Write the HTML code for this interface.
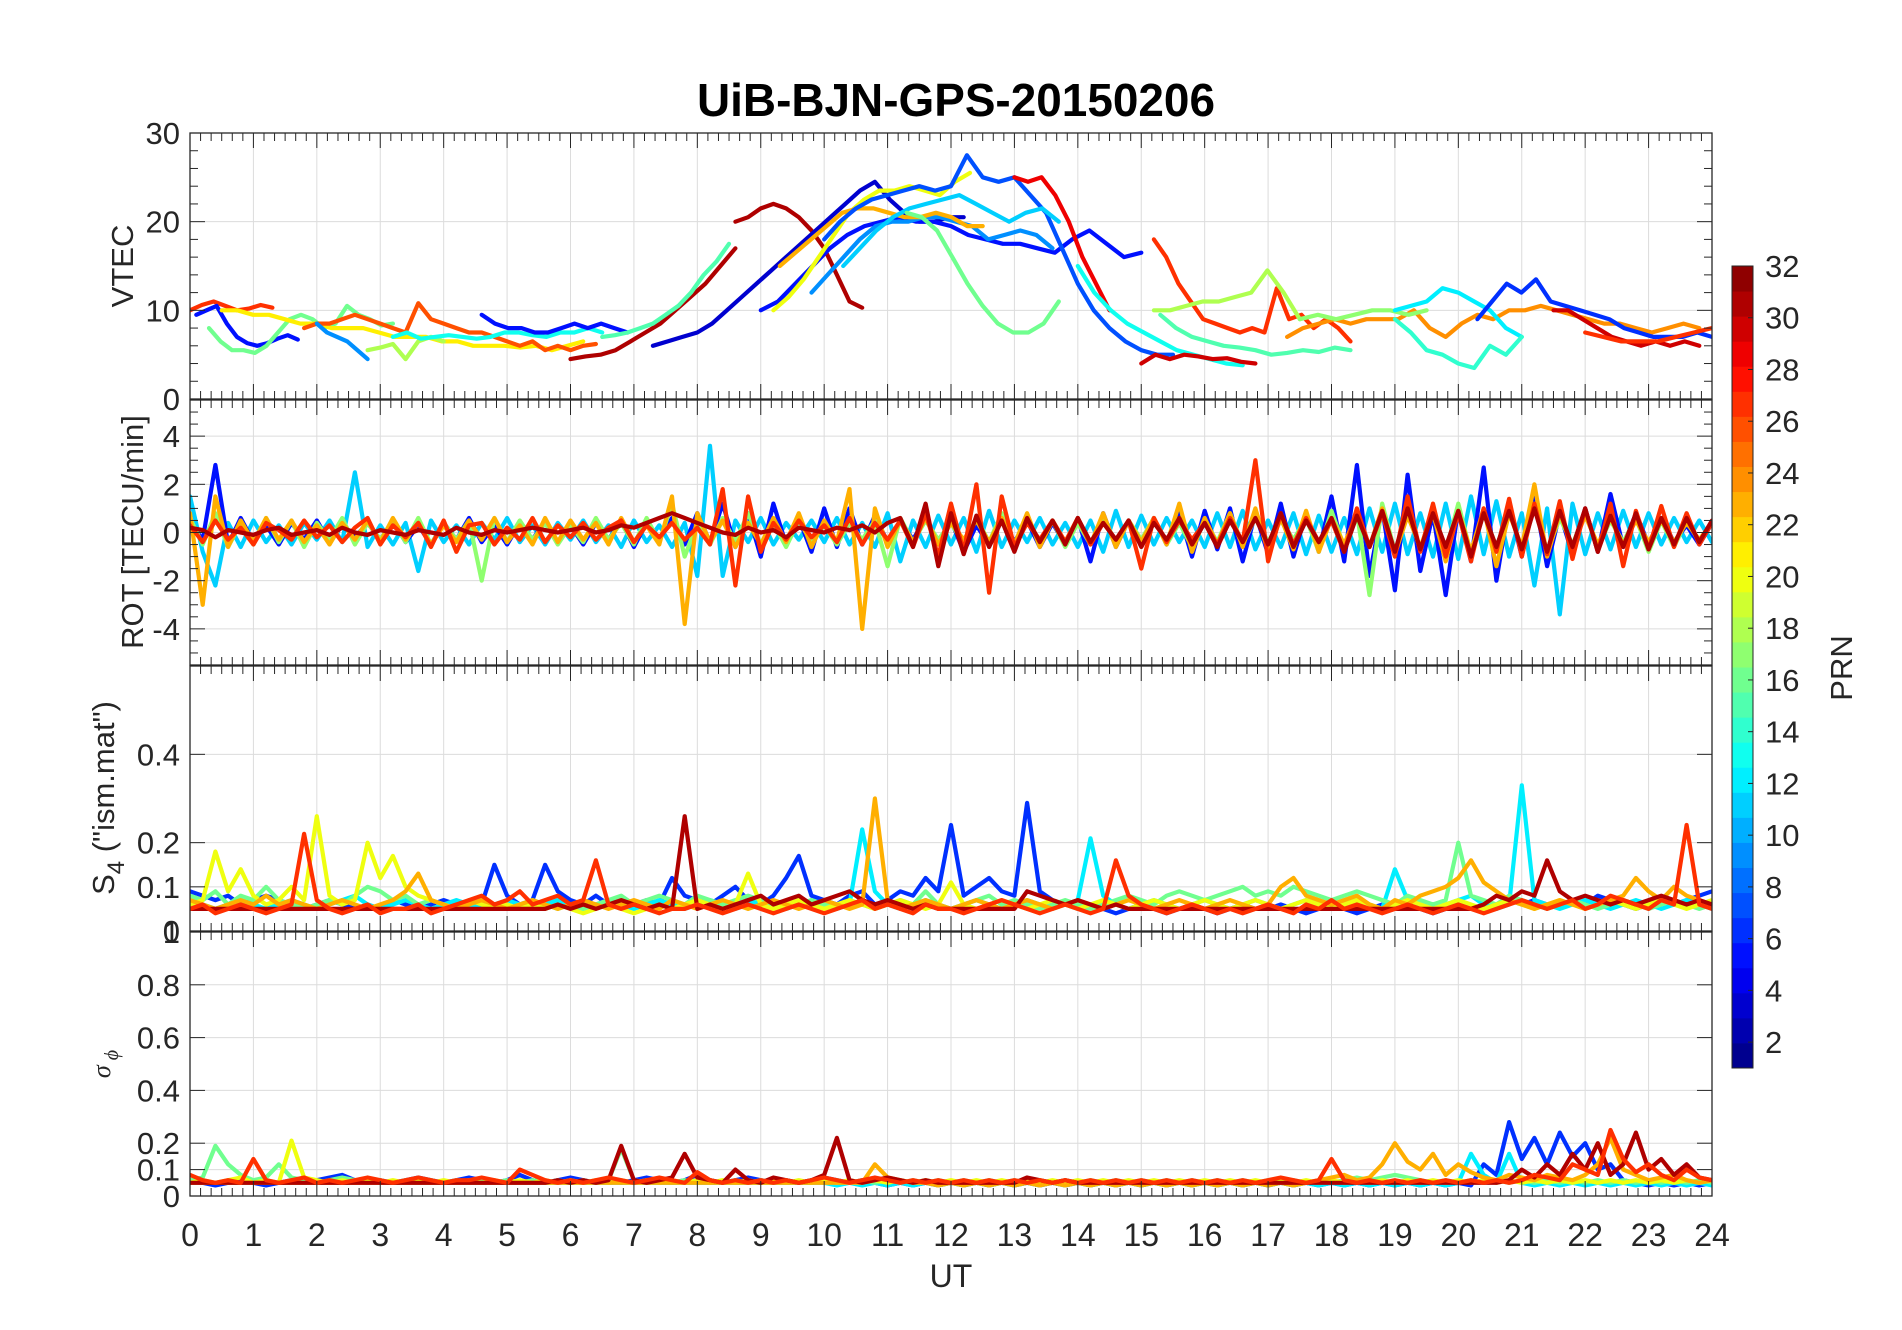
<!DOCTYPE html>
<html><head><meta charset="utf-8"><style>
html,body{margin:0;padding:0;background:#fff;}
svg{display:block;}
text{font-family:"Liberation Sans Narrow","Liberation Sans",sans-serif;fill:#262626;}
</style></head><body>
<svg id="fig" width="1902" height="1330" viewBox="0 0 1902 1330" xmlns="http://www.w3.org/2000/svg">
<text x="956" y="116" text-anchor="middle" font-size="46" font-weight="bold" textLength="518" lengthAdjust="spacingAndGlyphs" style="fill:#000;font-family:'Liberation Sans',sans-serif">UiB-BJN-GPS-20150206</text>
</svg>
<script>
// ---------- data ----------
const xTickLabels=["0","1","2","3","4","5","6","7","8","9","10","11","12","13","14","15","16","17","18","19","20","21","22","23","24"];
const vtecTicks=[0,10,20,30];
const rotTicks=[-4,-2,0,2,4];
const s4Ticks=[0,0.1,0.2,0.4];
const sigTicks=[0,0.1,0.2,0.4,0.6,0.8,1];
const cbTicks=[2,4,6,8,10,12,14,16,18,20,22,24,26,28,30,32];

// VTEC series: [prn, t0, t1] + values
const vtecPrn=[27,5,16,21,26,9,18,13,5,31,31,15,3,5,9,20,23,7,11,16,29,13,30,27,18,15,24,17,12,14,6,30,27];
const vtecT0=[0,0.1,0.3,0.5,1.8,2,2.8,3.2,4.6,6,8.6,6.5,7.3,9,9.8,9.2,9.3,10,10.3,11.3,13,14,15,15.2,15.2,15.3,17.3,17.5,19,19,20.3,21.5,22];
const vtecT1=[1.3,1.7,3.2,6.2,6.4,2.8,4,6.5,6.9,8.6,10.6,8.5,12.2,15,13.6,12.3,12.5,15.5,13.7,13.7,14.5,16.6,16.8,18.3,17.5,18.3,23.8,19.5,21,21,24,23.8,24];
const vtecVals=[
[10,10.6,11,10.5,10,10.2,10.6,10.3],
[9.5,10,10.5,8.5,7,6.3,6,6.3,6.8,7.2,6.7],
[8,6.5,5.5,5.5,5.2,6,7.5,9,9.5,9,8,8.5,10.5,9.5,9,8.3,8.5],
[10,10,9.5,9.5,9,8.5,8.5,8,8,8,7.5,7,7,7,6.5,6.5,6,6,6,5.8,6,5.5,6,6.5],
[8,8.5,8.5,9,9.5,9,8.5,8,7.5,10.8,9,8.5,8,7.5,7.5,7,6.5,6,6.5,5.5,6,5.5,6,6.2],
[8.5,7.5,7,6.5,5.5,4.5],
[5.5,5.8,6.2,4.5,6.5,7,6.5],
[7,7.5,6.8,7,7.2,7,6.8,7,7.5,7.5,7.2,7,7.5,7.5,8,7.5],
[9.5,8.5,8,8,7.5,7.5,8,8.5,8,8.5,8,7.5],
[4.5,4.8,5,5.5,6.5,7.5,8.5,10,11.5,13,15,17],
[20,20.5,21.5,22,21.5,20.5,19,17,14,11,10.3],
[7,7.2,7.5,8,8.5,9.5,10.5,12,14,15.5,17.5],
[6,6.5,7,7.5,8.5,10,11.5,13,14.5,16,17.5,19,20.5,22,23.5,24.5,22.5,21,20,20,20.5,20.5],
[10,11,13,15,17,18.5,19.5,20,20.5,20,20,19.5,18.5,18,17.5,17.5,17,16.5,18,19,17.5,16,16.5],
[12,14,16,18,19.5,20,20,20.5,20.5,20,19.5,18,18.5,19,18.5,17],
[10,11.5,13.5,16,18.5,21,22.5,23.5,23.5,24,23.5,23,24.5,25.5],
[15,16.5,18,19.5,21,21.5,21.5,21,20.5,20.5,21,20.5,19.5,19.5],
[18,20,21.5,22.5,23,23.5,24,23.5,24,27.5,25,24.5,25,23,21,17,13,10,8,6.5,5.5,5,5],
[15,17,19,20.5,21.5,22,22.5,23,22,21,20,21,21.5,20],
[21,20.5,19,16,13,10.5,8.5,7.5,7.5,8.5,11],
[25,24.5,25,23,20,16,13,10],
[15,12,10,8.5,7.5,6.5,5.5,5,4.5,4,3.8],
[4,5,4.5,5,4.8,4.5,4.6,4.2,4],
[18,16,13,11,9,8.5,8,7.5,8,7.5,12.5,9,9.5,8,9,8,6.5],
[10,10,10.5,11,11,11.5,12,14.5,12,9],
[9.5,8,7,6.5,6,5.8,5.5,5,5.2,5.5,5.3,5.8,5.5],
[7,8,8.5,9,8.5,9,9,9,10,8,7,8.5,9.5,9,10,10,10.5,10,9.5,9,8.5,8.5,8,7.5,8,8.5,8],
[9,9.5,9,9.5,10,10,9.5,10],
[10,10.5,11,12.5,12,11,10,8,7],
[9,7.5,5.5,5,4,3.5,6,5,7],
[9,11,13,12,13.5,11,10.5,10,9.5,9,8,7.5,7,7,7,7.5,7],
[10,10,9,8,7,6.5,6,6.5,6,6.5,6],
[7.5,7,6.5,6.5,6.5,7,7.5,8]
];

// ROT series (full day, evenly spaced)
const rotPrn=[11,5,17,23,27,31];
const rotVals=[
[1.5,-0.8,-2.2,0.4,-0.6,0.5,-0.4,0.3,-0.5,0.4,-0.3,0.5,-0.4,2.5,-0.6,0.3,-0.5,0.4,-1.6,0.5,-0.4,0.3,-0.5,0.4,-0.3,0.6,-0.4,0.3,-0.5,0.4,-0.3,0.5,-0.4,0.3,-0.6,0.5,-0.4,0.3,-0.6,0.4,-1.8,3.6,-1.8,0.5,-0.4,0.6,-0.5,0.4,-0.3,0.5,-0.4,0.6,-0.5,0.4,-0.6,0.8,-1.2,0.5,-0.6,0.7,-0.5,0.6,-0.8,0.9,-0.6,0.5,-0.4,0.6,-0.5,0.4,-0.6,0.5,-0.8,0.9,-0.6,0.7,-0.5,0.6,-0.4,0.5,-0.6,0.8,-0.6,0.9,-0.7,0.5,-0.6,0.8,-0.9,0.7,-0.8,0.6,-0.9,1.0,-0.8,1.2,-0.9,0.8,-1.0,1.2,-1.1,1.5,-0.9,1.3,-1.0,0.8,-2.2,1.0,-3.4,1.2,-0.9,0.8,-0.7,0.9,-0.6,0.8,-0.5,0.6,-0.4,0.5,-0.4],
[0.4,-0.3,2.8,-0.5,0.6,-0.4,0.3,-0.5,0.4,-0.3,0.5,-0.4,0.3,-0.2,0.4,-0.3,0.5,-0.4,0.3,-0.5,0.4,-0.3,0.6,-0.4,0.3,-0.5,0.4,-0.3,0.5,-0.4,0.3,-0.5,0.4,-0.3,0.5,-0.6,0.4,-0.3,0.6,-0.5,0.8,-0.4,1.2,-0.6,0.8,-1.0,1.2,-0.5,0.6,-0.8,1.0,-0.6,1.0,-0.5,0.7,-0.4,0.5,-0.3,0.6,-0.4,0.5,-0.8,0.3,-0.5,0.6,-0.4,0.5,-0.6,0.4,-0.5,0.6,-1.2,0.8,-0.6,0.5,-0.4,0.6,-0.5,0.8,-1.0,0.9,-0.7,1.0,-1.2,0.8,-0.9,1.2,-1.0,0.8,-0.8,1.5,-1.2,2.8,-1.8,1.0,-2.4,2.4,-1.6,0.8,-2.6,1.0,-1.2,2.7,-2.0,1.2,-1.0,1.5,-1.4,0.8,-0.9,1.0,-0.8,1.6,-0.6,0.8,-0.5,0.6,-0.4,0.3,-0.5,0.4],
[0.6,-0.5,0.8,-0.6,0.4,-0.5,0.6,-0.4,0.5,-0.6,0.4,-0.3,0.6,-0.5,0.4,-0.3,0.5,-0.4,0.6,-0.5,0.4,-0.3,0.5,-2.0,0.6,-0.4,0.5,-0.3,0.4,-0.5,0.3,-0.4,0.6,-0.3,0.4,-0.5,0.6,-0.4,1.2,-1.0,0.4,-0.5,0.6,-0.4,0.8,-0.5,0.4,-0.6,0.5,-0.4,0.3,-0.5,0.4,-0.3,0.5,-1.4,0.6,-0.4,0.5,-0.3,0.4,-0.5,0.6,-0.4,0.8,-0.5,0.6,-0.4,0.5,-0.6,0.4,-0.5,0.6,-0.4,0.5,-0.3,0.6,-0.5,0.4,-0.6,0.5,-0.4,0.8,-0.5,0.6,-0.4,0.5,-0.3,0.6,-0.8,0.9,-0.6,0.8,-2.6,1.2,-0.8,0.9,-0.7,1.0,-0.8,1.2,-0.9,0.8,-0.6,0.9,-0.7,1.2,-0.8,0.6,-0.5,0.8,-0.6,0.5,-0.4,0.6,-0.8,0.5,-0.6,0.5,-0.4,0.4],
[0.8,-3.0,1.5,-0.6,0.5,-0.4,0.6,-0.3,0.5,-0.4,0.3,-0.5,0.4,-0.3,0.5,-0.4,0.6,-0.3,0.4,-0.5,0.3,-0.4,0.5,-0.3,0.6,-0.4,0.3,-0.5,0.6,-0.4,0.5,-0.3,0.4,-0.5,0.6,-0.4,0.3,-0.5,1.5,-3.8,0.8,-0.4,0.5,-0.6,0.4,-0.5,0.6,-0.4,0.8,-0.6,0.5,-0.4,1.8,-4.0,1.0,-0.6,0.5,-0.4,0.6,-0.5,0.4,-0.3,0.5,-0.4,0.6,-0.5,0.8,-0.6,0.5,-0.4,0.6,-0.5,0.8,-0.6,0.5,-0.4,0.6,-0.5,1.2,-0.8,0.6,-0.5,0.8,-0.6,1.0,-0.8,0.6,-0.7,0.9,-0.8,0.6,-0.5,0.8,-0.6,1.0,-0.9,0.7,-0.6,0.8,-1.2,0.9,-0.8,1.0,-1.4,0.8,-0.6,2.0,-1.0,0.8,-0.6,0.7,-0.5,0.6,-0.5,0.5,-0.4,0.5,-0.4,0.4,-0.3,0.4],
[0.3,-0.4,0.5,-0.3,0.2,-0.5,0.4,0.1,-0.3,0.5,-0.2,0.3,-0.4,0.2,0.6,-0.5,0.3,-0.2,0.4,-0.6,0.5,-0.8,0.3,0.4,-0.5,0.2,-0.3,0.6,-0.4,0.3,-0.2,0.4,-0.3,0.2,0.5,-0.4,0.3,-0.2,0.4,-0.3,0.2,-0.5,1.8,-2.2,1.5,-0.8,0.4,-0.3,0.5,-0.2,0.3,-0.4,0.6,-0.5,0.4,-0.3,0.5,-0.6,0.8,-1.0,1.2,-0.8,2.0,-2.5,1.5,-0.6,0.4,-0.3,0.5,-0.4,0.6,-0.5,0.4,-0.3,0.5,-1.5,0.6,-0.4,0.5,-0.3,0.4,-0.5,0.6,-0.4,3.0,-1.2,0.8,-0.5,0.6,-0.4,0.5,-0.8,1.0,-0.6,0.8,-1.0,1.5,-0.8,1.2,-1.0,0.8,-1.2,1.0,-0.8,1.4,-1.0,1.2,-0.9,1.3,-1.1,1.0,-0.8,1.2,-1.4,0.9,-0.7,1.1,-0.6,0.8,-0.5,0.4],
[0.2,0.1,-0.2,0.1,0.0,-0.1,0.1,0.2,-0.1,0.0,0.1,-0.1,0.2,0.0,-0.1,0.1,0.0,-0.1,0.1,0.0,-0.1,0.2,0.0,-0.1,0.1,0.0,0.1,0.2,0.1,0.0,0.1,0.2,0.0,0.1,0.3,0.2,0.4,0.6,0.8,0.6,0.4,0.2,0.0,-0.1,0.2,0.0,0.1,-0.2,0.2,0.1,0.0,0.2,0.1,0.3,0.0,0.4,0.6,-0.6,1.2,-1.4,0.8,-0.9,0.7,-0.6,0.5,-0.8,0.6,-0.4,0.5,-0.5,0.6,-0.4,0.4,-0.3,0.5,-0.6,0.4,-0.3,0.6,-0.5,0.4,-0.6,0.5,-0.4,0.6,-0.5,0.8,-0.6,0.5,-0.4,0.6,-0.8,0.7,-0.6,0.9,-0.8,1.0,-0.7,0.8,-0.6,0.9,-1.0,0.8,-0.6,0.9,-0.7,1.0,-0.8,0.9,-0.6,1.0,-0.8,0.7,-0.6,0.8,-0.7,0.6,-0.5,0.6,-0.4,0.5]
];

// S4 series (full day)
const s4Prn=[6,12,16,20,23,31,27];
const s4Vals=[
[0.09,0.08,0.07,0.08,0.06,0.07,0.08,0.07,0.06,0.05,0.06,0.07,0.06,0.05,0.06,0.05,0.07,0.06,0.05,0.06,0.07,0.06,0.05,0.06,0.15,0.08,0.06,0.07,0.15,0.09,0.07,0.06,0.08,0.06,0.05,0.06,0.07,0.06,0.12,0.08,0.07,0.06,0.08,0.1,0.07,0.06,0.08,0.12,0.17,0.08,0.07,0.06,0.08,0.09,0.06,0.07,0.09,0.08,0.12,0.09,0.24,0.08,0.1,0.12,0.09,0.08,0.29,0.09,0.07,0.06,0.05,0.06,0.05,0.04,0.05,0.06,0.05,0.04,0.05,0.06,0.05,0.04,0.05,0.06,0.05,0.05,0.06,0.05,0.04,0.05,0.06,0.05,0.04,0.05,0.06,0.05,0.06,0.05,0.04,0.05,0.06,0.05,0.06,0.05,0.07,0.06,0.07,0.06,0.06,0.07,0.06,0.08,0.07,0.06,0.05,0.06,0.07,0.06,0.07,0.08,0.09],
[0.07,0.06,0.05,0.06,0.07,0.06,0.05,0.06,0.07,0.06,0.05,0.06,0.07,0.08,0.06,0.05,0.06,0.07,0.06,0.05,0.06,0.07,0.06,0.05,0.06,0.07,0.06,0.05,0.06,0.07,0.06,0.05,0.06,0.07,0.06,0.05,0.06,0.07,0.06,0.05,0.06,0.07,0.06,0.05,0.06,0.07,0.06,0.05,0.06,0.07,0.06,0.05,0.06,0.23,0.09,0.06,0.05,0.06,0.07,0.06,0.05,0.06,0.07,0.06,0.05,0.06,0.07,0.06,0.05,0.06,0.07,0.21,0.08,0.06,0.05,0.06,0.07,0.06,0.05,0.06,0.07,0.06,0.05,0.06,0.07,0.06,0.05,0.06,0.07,0.06,0.05,0.06,0.07,0.06,0.05,0.14,0.07,0.06,0.05,0.06,0.07,0.08,0.06,0.05,0.06,0.33,0.07,0.06,0.05,0.06,0.07,0.06,0.05,0.06,0.07,0.06,0.05,0.06,0.07,0.06,0.05],
[0.08,0.07,0.09,0.06,0.08,0.07,0.1,0.07,0.06,0.05,0.06,0.07,0.06,0.08,0.1,0.09,0.07,0.08,0.06,0.07,0.06,0.05,0.06,0.07,0.06,0.05,0.06,0.07,0.06,0.05,0.06,0.05,0.06,0.07,0.08,0.06,0.07,0.08,0.07,0.06,0.08,0.07,0.06,0.07,0.08,0.07,0.06,0.05,0.06,0.07,0.06,0.05,0.07,0.06,0.05,0.06,0.07,0.06,0.09,0.06,0.05,0.06,0.07,0.08,0.06,0.07,0.06,0.05,0.06,0.07,0.06,0.05,0.06,0.07,0.08,0.07,0.06,0.08,0.09,0.08,0.07,0.08,0.09,0.1,0.08,0.09,0.08,0.1,0.09,0.08,0.07,0.08,0.09,0.08,0.07,0.06,0.08,0.07,0.06,0.07,0.2,0.08,0.07,0.06,0.08,0.07,0.06,0.05,0.06,0.07,0.06,0.05,0.06,0.07,0.06,0.05,0.06,0.07,0.06,0.05,0.06],
[0.06,0.07,0.18,0.09,0.14,0.08,0.06,0.07,0.1,0.07,0.26,0.08,0.06,0.07,0.2,0.12,0.17,0.1,0.08,0.07,0.06,0.05,0.07,0.06,0.05,0.06,0.05,0.06,0.05,0.06,0.05,0.04,0.05,0.06,0.05,0.04,0.05,0.06,0.05,0.06,0.07,0.06,0.05,0.06,0.13,0.06,0.05,0.06,0.07,0.06,0.05,0.06,0.07,0.06,0.05,0.06,0.07,0.06,0.05,0.06,0.11,0.06,0.05,0.06,0.07,0.06,0.05,0.06,0.07,0.06,0.05,0.06,0.07,0.06,0.05,0.06,0.07,0.06,0.05,0.06,0.07,0.06,0.05,0.06,0.07,0.06,0.05,0.06,0.07,0.06,0.05,0.06,0.07,0.06,0.05,0.06,0.07,0.06,0.05,0.06,0.07,0.06,0.05,0.06,0.07,0.06,0.05,0.06,0.07,0.06,0.05,0.06,0.07,0.06,0.05,0.06,0.07,0.06,0.05,0.06,0.07],
[0.07,0.06,0.05,0.06,0.07,0.06,0.08,0.06,0.07,0.06,0.05,0.06,0.07,0.06,0.05,0.06,0.07,0.09,0.13,0.07,0.06,0.05,0.06,0.07,0.06,0.05,0.06,0.07,0.06,0.05,0.06,0.07,0.06,0.05,0.06,0.07,0.06,0.05,0.07,0.06,0.05,0.06,0.07,0.06,0.05,0.06,0.07,0.06,0.05,0.06,0.07,0.06,0.05,0.06,0.3,0.07,0.05,0.06,0.07,0.06,0.05,0.06,0.07,0.06,0.05,0.06,0.07,0.06,0.05,0.06,0.07,0.06,0.05,0.06,0.07,0.06,0.05,0.06,0.07,0.06,0.05,0.06,0.07,0.06,0.05,0.06,0.1,0.12,0.08,0.07,0.06,0.07,0.08,0.06,0.05,0.07,0.06,0.08,0.09,0.1,0.12,0.16,0.11,0.09,0.07,0.06,0.05,0.06,0.07,0.06,0.05,0.06,0.07,0.08,0.12,0.09,0.07,0.1,0.08,0.07,0.06],
[0.05,0.05,0.05,0.05,0.05,0.05,0.05,0.05,0.05,0.05,0.05,0.05,0.05,0.05,0.05,0.05,0.05,0.05,0.05,0.05,0.05,0.05,0.05,0.05,0.05,0.05,0.05,0.05,0.05,0.06,0.05,0.06,0.05,0.06,0.07,0.06,0.05,0.06,0.05,0.26,0.05,0.06,0.05,0.06,0.07,0.08,0.06,0.07,0.08,0.06,0.07,0.08,0.09,0.07,0.06,0.07,0.06,0.05,0.06,0.05,0.05,0.05,0.05,0.05,0.05,0.05,0.09,0.08,0.07,0.06,0.07,0.06,0.05,0.06,0.05,0.05,0.05,0.05,0.05,0.05,0.05,0.05,0.05,0.05,0.05,0.05,0.05,0.05,0.05,0.05,0.05,0.05,0.05,0.05,0.05,0.05,0.05,0.05,0.05,0.05,0.05,0.05,0.06,0.08,0.07,0.09,0.08,0.16,0.09,0.07,0.08,0.07,0.06,0.07,0.06,0.07,0.08,0.07,0.06,0.07,0.06],
[0.05,0.06,0.04,0.05,0.06,0.05,0.04,0.05,0.06,0.22,0.07,0.05,0.04,0.05,0.06,0.04,0.05,0.05,0.06,0.04,0.05,0.06,0.07,0.08,0.06,0.07,0.09,0.06,0.07,0.08,0.06,0.07,0.16,0.06,0.05,0.06,0.05,0.04,0.05,0.05,0.06,0.05,0.04,0.05,0.06,0.05,0.04,0.05,0.06,0.05,0.04,0.05,0.06,0.07,0.05,0.06,0.05,0.04,0.06,0.05,0.05,0.04,0.05,0.06,0.07,0.06,0.05,0.04,0.05,0.06,0.05,0.04,0.05,0.16,0.08,0.06,0.05,0.04,0.05,0.06,0.05,0.04,0.05,0.04,0.05,0.06,0.05,0.04,0.06,0.05,0.07,0.05,0.06,0.05,0.04,0.05,0.06,0.05,0.04,0.05,0.06,0.05,0.04,0.05,0.06,0.07,0.06,0.05,0.06,0.07,0.05,0.06,0.08,0.07,0.06,0.05,0.07,0.06,0.24,0.06,0.05]
];

// sigma-phi series (full day)
const sigPrn=[6,12,16,20,23,31,27];
const sigVals=[
[0.06,0.05,0.04,0.05,0.06,0.05,0.04,0.05,0.06,0.05,0.06,0.07,0.08,0.06,0.05,0.06,0.05,0.06,0.07,0.06,0.05,0.06,0.07,0.06,0.05,0.06,0.08,0.06,0.05,0.06,0.07,0.06,0.05,0.06,0.05,0.06,0.07,0.06,0.05,0.06,0.08,0.06,0.05,0.06,0.07,0.06,0.05,0.06,0.05,0.06,0.07,0.06,0.05,0.06,0.05,0.04,0.05,0.04,0.05,0.04,0.05,0.04,0.05,0.04,0.05,0.04,0.05,0.04,0.05,0.04,0.05,0.04,0.05,0.04,0.05,0.04,0.05,0.04,0.05,0.04,0.05,0.04,0.05,0.04,0.05,0.04,0.05,0.04,0.05,0.04,0.05,0.04,0.05,0.04,0.05,0.04,0.05,0.04,0.05,0.04,0.05,0.04,0.12,0.08,0.28,0.14,0.22,0.12,0.24,0.15,0.2,0.1,0.12,0.06,0.05,0.04,0.05,0.04,0.05,0.04,0.05],
[0.05,0.05,0.05,0.05,0.05,0.05,0.05,0.05,0.05,0.05,0.05,0.05,0.05,0.05,0.06,0.05,0.05,0.05,0.05,0.05,0.05,0.05,0.05,0.05,0.05,0.05,0.05,0.05,0.05,0.05,0.05,0.05,0.05,0.05,0.05,0.05,0.05,0.05,0.05,0.05,0.05,0.05,0.05,0.05,0.05,0.05,0.05,0.05,0.05,0.05,0.05,0.04,0.05,0.04,0.05,0.04,0.05,0.04,0.05,0.04,0.05,0.04,0.05,0.04,0.05,0.04,0.05,0.04,0.05,0.04,0.05,0.04,0.05,0.04,0.05,0.04,0.05,0.04,0.05,0.04,0.05,0.04,0.05,0.04,0.05,0.04,0.05,0.04,0.05,0.04,0.05,0.04,0.05,0.04,0.05,0.04,0.05,0.04,0.05,0.04,0.05,0.16,0.08,0.05,0.16,0.05,0.04,0.05,0.04,0.05,0.04,0.05,0.04,0.05,0.04,0.05,0.04,0.05,0.04,0.05,0.04],
[0.06,0.07,0.19,0.12,0.08,0.06,0.07,0.12,0.07,0.06,0.05,0.06,0.07,0.06,0.05,0.06,0.05,0.06,0.05,0.06,0.05,0.06,0.05,0.06,0.05,0.06,0.05,0.06,0.05,0.06,0.05,0.06,0.05,0.06,0.18,0.06,0.05,0.06,0.05,0.06,0.05,0.06,0.05,0.06,0.05,0.06,0.05,0.06,0.05,0.06,0.05,0.06,0.05,0.06,0.05,0.06,0.05,0.06,0.05,0.06,0.05,0.06,0.05,0.06,0.05,0.06,0.05,0.06,0.05,0.06,0.05,0.06,0.05,0.06,0.05,0.06,0.05,0.06,0.05,0.06,0.05,0.06,0.05,0.06,0.05,0.06,0.05,0.06,0.05,0.06,0.05,0.06,0.07,0.06,0.07,0.08,0.07,0.06,0.05,0.06,0.05,0.06,0.05,0.06,0.05,0.06,0.05,0.06,0.05,0.06,0.05,0.06,0.05,0.06,0.05,0.06,0.05,0.06,0.05,0.06,0.05],
[0.05,0.06,0.05,0.06,0.07,0.05,0.06,0.05,0.21,0.07,0.06,0.05,0.06,0.05,0.06,0.05,0.06,0.05,0.06,0.05,0.06,0.05,0.06,0.05,0.06,0.05,0.06,0.05,0.06,0.05,0.06,0.05,0.06,0.05,0.06,0.05,0.06,0.05,0.06,0.05,0.06,0.05,0.06,0.05,0.06,0.05,0.06,0.05,0.06,0.05,0.06,0.05,0.06,0.05,0.06,0.05,0.06,0.05,0.06,0.05,0.06,0.05,0.06,0.05,0.06,0.05,0.06,0.05,0.06,0.05,0.06,0.05,0.06,0.05,0.06,0.05,0.06,0.05,0.06,0.05,0.06,0.05,0.06,0.05,0.06,0.05,0.06,0.05,0.06,0.05,0.06,0.05,0.06,0.05,0.06,0.05,0.06,0.05,0.06,0.05,0.06,0.05,0.06,0.05,0.06,0.05,0.06,0.05,0.06,0.05,0.06,0.05,0.06,0.05,0.06,0.05,0.06,0.05,0.06,0.05,0.06],
[0.05,0.05,0.05,0.05,0.05,0.05,0.05,0.05,0.05,0.05,0.05,0.05,0.05,0.05,0.05,0.05,0.05,0.05,0.05,0.05,0.05,0.05,0.05,0.05,0.05,0.05,0.05,0.05,0.05,0.05,0.05,0.05,0.05,0.05,0.05,0.05,0.05,0.05,0.05,0.05,0.05,0.05,0.05,0.05,0.05,0.05,0.05,0.05,0.05,0.05,0.05,0.05,0.05,0.05,0.12,0.07,0.06,0.05,0.05,0.04,0.05,0.04,0.05,0.04,0.05,0.04,0.05,0.04,0.05,0.04,0.05,0.04,0.05,0.04,0.05,0.04,0.05,0.04,0.05,0.04,0.05,0.04,0.05,0.04,0.05,0.04,0.05,0.04,0.05,0.06,0.07,0.08,0.06,0.07,0.12,0.2,0.13,0.1,0.16,0.08,0.12,0.09,0.07,0.06,0.08,0.07,0.06,0.08,0.07,0.06,0.08,0.12,0.22,0.1,0.08,0.06,0.07,0.08,0.06,0.05,0.06],
[0.05,0.05,0.05,0.05,0.05,0.05,0.05,0.05,0.05,0.05,0.05,0.05,0.05,0.05,0.05,0.05,0.05,0.05,0.05,0.05,0.05,0.05,0.05,0.05,0.05,0.05,0.05,0.05,0.05,0.06,0.05,0.06,0.05,0.06,0.19,0.06,0.05,0.06,0.07,0.16,0.07,0.06,0.05,0.1,0.06,0.05,0.07,0.06,0.05,0.06,0.08,0.22,0.06,0.05,0.06,0.07,0.06,0.05,0.06,0.05,0.05,0.05,0.05,0.05,0.05,0.05,0.07,0.06,0.05,0.06,0.05,0.05,0.05,0.05,0.05,0.05,0.05,0.05,0.05,0.05,0.05,0.05,0.05,0.05,0.05,0.05,0.05,0.05,0.05,0.05,0.05,0.05,0.05,0.05,0.05,0.05,0.05,0.05,0.05,0.05,0.05,0.05,0.05,0.05,0.06,0.1,0.07,0.12,0.08,0.16,0.1,0.2,0.08,0.12,0.24,0.1,0.14,0.08,0.12,0.07,0.06],
[0.08,0.06,0.05,0.06,0.05,0.14,0.06,0.05,0.06,0.07,0.05,0.06,0.05,0.06,0.07,0.06,0.05,0.06,0.07,0.06,0.05,0.06,0.06,0.07,0.06,0.05,0.1,0.08,0.06,0.05,0.06,0.05,0.06,0.07,0.06,0.05,0.06,0.07,0.06,0.05,0.09,0.06,0.05,0.06,0.05,0.06,0.05,0.06,0.05,0.06,0.07,0.06,0.05,0.06,0.07,0.06,0.05,0.06,0.05,0.06,0.05,0.06,0.05,0.06,0.05,0.06,0.05,0.06,0.05,0.06,0.05,0.06,0.05,0.06,0.05,0.06,0.05,0.06,0.05,0.06,0.05,0.06,0.05,0.06,0.05,0.06,0.07,0.06,0.05,0.06,0.14,0.06,0.05,0.06,0.05,0.06,0.05,0.06,0.05,0.06,0.05,0.06,0.05,0.06,0.05,0.06,0.08,0.07,0.06,0.12,0.1,0.08,0.25,0.14,0.09,0.12,0.08,0.06,0.1,0.07,0.06]
];

// ---------- drawing ----------
const NS='http://www.w3.org/2000/svg';
const svg=document.getElementById('fig');
const X0=190,X1=1712;
const panels=[
 {name:'vtec',top:133,bot:399,min:0,max:30,ticks:vtecTicks,minor:2},
 {name:'rot',top:400,bot:665,min:-5.5,max:5.5,ticks:rotTicks,minor:0.5},
 {name:'s4',top:666,bot:931,min:0,max:0.6,ticks:s4Ticks,minor:0},
 {name:'sigma',top:932,bot:1196,min:0,max:1,ticks:sigTicks,minor:0}
];
function xs(t){return X0+(t/24)*(X1-X0);}
function jet(p){const x=(p-0.5)/32;const c=v=>Math.round(255*Math.max(0,Math.min(1,1.5-Math.abs(v))));return `rgb(${c(4*x-3)},${c(4*x-2)},${c(4*x-1)})`;}
function mk(tag,attrs,parent){const e=document.createElementNS(NS,tag);for(const k in attrs)e.setAttribute(k,attrs[k]);(parent||svg).appendChild(e);return e;}

panels.forEach((P,pi)=>{
  const ys=v=>P.bot-(v-P.min)/(P.max-P.min)*(P.bot-P.top);
  P.ys=ys;
  const g=mk('g',{});
  
  
  for(let h=1;h<24;h++){const l=mk('line',{x1:xs(h),x2:xs(h),y1:P.top,y2:P.bot,stroke:'#dcdcdc','stroke-width':1},g);}
  P.ticks.forEach(v=>{if(v>P.min&&v<P.max){const l=mk('line',{x1:X0,x2:X1,y1:ys(v),y2:ys(v),stroke:'#dcdcdc','stroke-width':1},g);}});
  const cp=mk('clipPath',{id:'clip'+pi},g);mk('rect',{x:X0,y:P.top,width:X1-X0,height:P.bot-P.top},cp);
  P.lines=mk('g',{'clip-path':`url(#clip${pi})`},g);
  
  
  P.g=g;
});

function drawSeries(P,prn,t0,t1,vals,w){
  const n=vals.length;let d='';
  vals.forEach((v,i)=>{const t=t0+(t1-t0)*i/(n-1);d+=(i?'L':'M')+xs(t).toFixed(1)+','+P.ys(v).toFixed(1);});
  const p=mk('path',{d:d,fill:'none',stroke:jet(prn),'stroke-width':w,'stroke-linejoin':'round','stroke-linecap':'round'},P.lines);
  
  
}
vtecVals.forEach((vals,i)=>drawSeries(panels[0],vtecPrn[i],vtecT0[i],vtecT1[i],vals,4.2));
rotVals.forEach((vals,i)=>drawSeries(panels[1],rotPrn[i],0,24,vals,4.2));
s4Vals.forEach((vals,i)=>drawSeries(panels[2],s4Prn[i],0,24,vals,4.2));
sigVals.forEach((vals,i)=>drawSeries(panels[3],sigPrn[i],0,24,vals,4.2));

panels.forEach((P,pi)=>{
  const g=P.g,ys=P.ys;
  const fr=mk('rect',{x:X0,y:P.top,width:X1-X0,height:P.bot-P.top,fill:'none',stroke:'#262626','stroke-width':1.3},g);
  
  for(let k=0;k<=144;k++){const x=xs(k/6);const L=(k%6===0)?15:8;
    mk('line',{x1:x,x2:x,y1:P.top,y2:P.top+L,stroke:'#262626','stroke-width':1},g);
    mk('line',{x1:x,x2:x,y1:P.bot,y2:P.bot-L,stroke:'#262626','stroke-width':1},g);}
  if(P.minor){for(let v=P.min;v<=P.max+1e-9;v+=P.minor){const y=ys(v);const major=P.ticks.some(t=>Math.abs(t-v)<1e-6);const L=major?15:8;
    mk('line',{x1:X0,x2:X0+L,y1:y,y2:y,stroke:'#262626','stroke-width':1},g);mk('line',{x1:X1,x2:X1-L,y1:y,y2:y,stroke:'#262626','stroke-width':1},g);}}
  else{P.ticks.forEach(v=>{const y=ys(v);mk('line',{x1:X0,x2:X0+15,y1:y,y2:y,stroke:'#262626','stroke-width':1},g);mk('line',{x1:X1,x2:X1-15,y1:y,y2:y,stroke:'#262626','stroke-width':1},g);});}
  P.ticks.forEach(v=>{const t=mk('text',{x:180,y:ys(v)+11,'text-anchor':'end','font-size':31},g);t.textContent=String(v);
    });
});
function ylab(txt,x,y,name,fs){const t=mk('text',{x:x,y:y,'text-anchor':'middle','font-size':fs,transform:`rotate(-90 ${x} ${y})`,style:"font-family:'Liberation Sans',sans-serif"});t.textContent=txt;return t;}
ylab('VTEC',133,266,'vtec-y-axis-title',31);
ylab('ROT [TECU/min]',143,532,'rot-y-axis-title',31);
(function(){const x=114,y=798;const t=mk('text',{x:x,y:y,'text-anchor':'middle','font-size':31,transform:`rotate(-90 ${x} ${y})`,style:"font-family:'Liberation Sans',sans-serif"});
 
 t.innerHTML='S<tspan dy="10" font-size="24">4</tspan><tspan dy="-10"> ("ism.mat")</tspan>';})();
(function(){const x=110,y=1064;const t=mk('text',{x:x,y:y,'text-anchor':'middle','font-size':26,'font-style':'italic',transform:`rotate(-90 ${x} ${y})`,style:"font-family:'Liberation Serif',serif"});
 
 t.innerHTML='σ<tspan dy="8" font-size="20"> ϕ</tspan>';})();
xTickLabels.forEach((s,i)=>{const t=mk('text',{x:xs(i),y:1246,'text-anchor':'middle','font-size':32});t.textContent=s;});
(function(){const t=mk('text',{x:951,y:1287,'text-anchor':'middle','font-size':32});t.textContent='UT';})();
const CB={x:1732,w:21,top:266,bot:1068};
const cbg=mk('g',{});


for(let i=0;i<32;i++){const h=(CB.bot-CB.top)/32;mk('rect',{x:CB.x,y:CB.bot-(i+1)*h,width:CB.w,height:h+0.5,fill:jet(i+1)},cbg);}
mk('rect',{x:CB.x,y:CB.top,width:CB.w,height:CB.bot-CB.top,fill:'none',stroke:'#262626','stroke-width':1},cbg);
cbTicks.forEach(v=>{const y=CB.bot-(v-1)/31*(CB.bot-CB.top);mk('line',{x1:CB.x+CB.w-5,x2:CB.x+CB.w,y1:y,y2:y,stroke:'#262626','stroke-width':1},cbg);
 const t=mk('text',{x:CB.x+CB.w+12,y:y+11,'font-size':31},cbg);t.textContent=String(v);});
ylab('PRN',1852,668,'colorbar-title',31);
</script>
</body></html>
